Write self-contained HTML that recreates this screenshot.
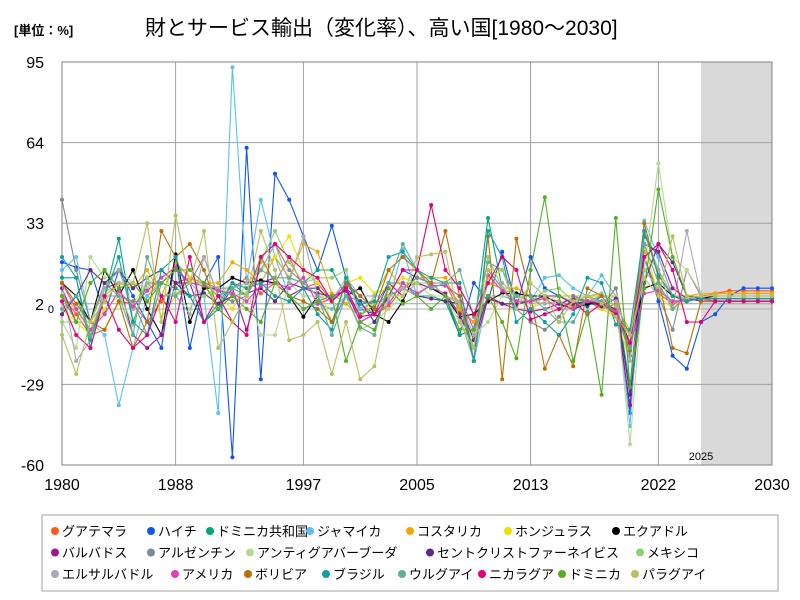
<!DOCTYPE html>
<html><head><meta charset="utf-8">
<style>
body{margin:0;background:#fff;font-family:"Liberation Sans","Noto Sans CJK JP",sans-serif;}
#wrap{position:relative;width:800px;height:600px;overflow:hidden;}
.t{position:absolute;white-space:nowrap;}
</style></head>
<body>
<div id="wrap">
<div class="t" style="left:14px;top:20px;font-size:13px;font-weight:bold;">[単位：%]</div>
<div class="t" style="left:145px;top:12px;font-size:21px;">財とサービス輸出（変化率）、高い国[1980～2030]</div>
<svg id="svg" width="800" height="600" style="position:absolute;left:0;top:0"></svg>
</div>
<script>
const years=[];for(let y=1980;y<=2030;y++)years.push(y);
const xTicks=[1980,1988,1997,2005,2013,2022,2030];
const yTicks=[95,64,33,2,-29,-60];
const names=["グアテマラ","ハイチ","ドミニカ共和国","ジャマイカ","コスタリカ","ホンジュラス","エクアドル","バルバドス","アルゼンチン","アンティグアバーブーダ","セントクリストファーネイビス","メキシコ","エルサルバドル","アメリカ","ボリビア","ブラジル","ウルグアイ","ニカラグア","ドミニカ","パラグアイ"];
const colors=["#ff5a1a","#1155ee","#00a77a","#5cc0f0","#f5a700","#f0e000","#000000","#a0149a","#808890","#b8d890","#5a2a8a","#90d070","#a8a8b8","#e040c0","#b87000","#10a0a0","#60b090","#e0007a","#50b020","#b8c060"];
const sGuatemala=[5,-2,-10,-8,3,2,-5,3,10,12,10,8,8,12,6,10,20,8,10,3,10,2,-2,1,8,10,8,10,-1,-5,10,8,2,3,4,3,1,3,0,2,-10,20,6,2,4,5,6,7,7,7,7];
const sHaiti=[18,16,15,-2,15,5,-5,-15,20,-15,10,20,-57,62,-27,52,42,28,15,32,12,0,-2,5,15,12,10,5,-10,10,3,22,1,20,8,5,3,1,5,5,-40,20,3,-18,-23,-5,-2,5,8,8,8];
const sDomRep=[12,12,-15,5,27,-5,10,10,8,5,-5,2,10,5,15,20,12,10,15,15,5,-2,1,10,10,5,5,3,-10,-8,35,8,5,5,5,5,5,3,5,5,-30,28,20,5,5,5,5,5,5,5,5];
const sJamaica=[15,20,-5,-10,-37,-15,5,10,15,10,5,-40,93,10,42,20,5,0,2,0,5,0,3,3,23,5,10,5,-3,-20,5,5,3,3,12,13,8,5,13,5,-45,34,20,5,4,4,4,4,4,4,4];
const sCostaRica=[5,0,-8,5,10,8,15,5,18,12,10,10,18,15,10,20,12,25,22,6,2,-3,5,15,8,12,12,12,0,-5,10,8,8,5,5,5,5,5,5,5,-15,22,15,5,5,6,6,6,6,6,6];
const sHonduras=[0,-5,-10,0,5,2,10,-3,5,12,8,5,0,10,15,20,28,15,10,-5,10,12,6,8,12,10,8,5,3,-15,12,15,5,0,5,5,2,5,0,-3,-20,25,5,0,3,4,4,4,4,4,4];
const sEcuador=[10,5,-5,15,5,15,0,-10,21,-5,8,8,12,10,11,10,5,-3,5,-5,5,8,-2,-5,3,15,8,5,-3,-2,3,6,6,5,5,2,0,2,2,0,-13,8,10,5,3,4,5,5,5,5,5];
const sBarbados=[8,-5,-5,8,10,-10,-15,-10,10,10,-5,0,8,-8,10,12,5,8,6,5,7,-5,-2,10,5,10,8,6,-2,-15,4,2,0,-1,0,2,4,3,2,0,-37,25,22,8,4,3,3,3,3,3,3];
const sArgentina=[42,15,-5,10,5,3,-10,10,15,10,20,5,3,5,15,25,15,10,5,-5,5,3,2,5,8,12,10,10,2,-20,15,8,0,-5,-8,-3,5,3,1,8,-18,20,5,-8,15,5,5,5,5,5,5];
const sAntigua=[-5,-15,20,12,15,10,8,15,5,0,10,5,10,8,-10,-10,10,5,5,5,5,-8,-5,0,5,10,5,5,-5,-10,-5,5,5,0,3,5,3,3,3,5,-52,15,56,20,15,6,5,5,5,5,5];
const sStKitts=[-2,5,15,10,15,8,12,15,10,5,6,2,5,6,8,3,10,8,8,3,8,3,-5,5,8,5,4,3,2,-12,5,2,2,3,5,5,2,3,1,4,-33,10,25,18,5,4,4,4,4,4,4];
const sMexico=[-5,-5,-5,8,6,-6,12,5,6,5,5,8,5,6,18,30,18,10,12,12,15,-3,2,2,10,10,10,5,2,-15,20,8,5,3,7,8,3,5,6,1,-8,15,8,3,4,5,5,5,5,5,5];
const sElSalvador=[10,-20,-12,8,15,0,10,5,5,-2,20,5,8,10,15,25,10,28,5,3,12,5,5,5,8,5,10,5,3,-10,10,10,5,3,2,3,0,3,5,3,-20,30,15,0,30,5,5,5,5,5,5];
const sUSA=[10,0,-8,-2,7,1,7,12,16,10,9,7,6,3,9,10,8,12,2,4,9,-5,-2,2,10,6,9,9,5,-8,13,7,3,3,4,0,0,3,3,-1,-14,6,7,3,3,4,3,3,3,3,3];
const sBolivia=[10,2,-5,-8,3,-15,-5,30,20,25,15,0,-5,5,20,10,5,3,0,-5,10,5,0,15,20,15,10,30,5,-20,28,-27,27,5,-23,-10,-22,8,5,-2,-16,33,12,-15,-17,3,3,3,3,3,3];
const sBrazil=[20,12,-12,5,20,-5,-10,15,20,5,-5,0,10,8,10,5,3,8,-2,-8,12,2,3,20,22,15,12,10,10,-20,30,20,-5,0,-5,-10,-2,12,10,-6,-8,30,13,5,3,4,4,4,4,4,4];
const sUruguay=[0,5,-10,5,5,-10,20,5,5,10,10,5,8,5,15,12,12,10,5,-10,5,-7,-10,10,25,15,8,10,15,-3,18,15,5,5,0,-5,-5,5,3,-2,-15,25,10,0,5,5,5,5,5,5,5];
const sNicaragua=[3,-10,-15,5,-8,-15,-10,5,-5,20,-5,5,-5,-10,20,25,20,15,12,3,8,-3,-2,5,15,15,40,15,8,-2,10,20,15,-4,-2,0,3,-2,2,-2,-13,20,25,15,-5,-5,3,3,3,3,3];
const sDominica=[5,-5,10,15,8,10,3,10,15,15,10,0,5,0,-5,10,5,0,3,5,-20,-5,-8,8,2,5,0,5,-8,-8,5,-5,-19,15,43,5,-20,-1,-33,35,-30,8,46,20,5,5,5,5,5,5,5];
const sParaguay=[-10,-25,-5,3,10,10,33,-5,36,10,30,-15,-5,5,30,15,-12,-10,-5,-25,-5,-27,-22,5,5,20,21,22,-5,-15,15,15,0,10,5,-5,3,5,2,-3,-10,12,5,28,5,5,5,5,5,5,5];
const series=[sGuatemala,sHaiti,sDomRep,sJamaica,sCostaRica,sHonduras,sEcuador,sBarbados,sArgentina,sAntigua,sStKitts,sMexico,sElSalvador,sUSA,sBolivia,sBrazil,sUruguay,sNicaragua,sDominica,sParaguay];

const L=62,R=772,T=62,B=465;
const x=y=>L+(y-1980)/(2030-1980)*(R-L);
const yS=v=>T+(95-v)/(95-(-60))*(B-T);
const svg=document.getElementById('svg');
const NS='http://www.w3.org/2000/svg';
function mk(tag,attrs,parent){const e=document.createElementNS(NS,tag);for(const k in attrs)e.setAttribute(k,attrs[k]);(parent||svg).appendChild(e);return e;}

let e=mk('rect',{x:x(2025),y:T,width:R-x(2025),height:B-T,fill:'#d9d9d9'});


xTicks.forEach(t=>{
  const g=mk('line',{x1:x(t),x2:x(t),y1:T,y2:B,stroke:'#a0a0a0','stroke-width':1});
  
  
  const tx=mk('text',{x:x(t),y:490,'text-anchor':'middle','font-size':16,fill:'#000'});
  tx.textContent=t;
  
  
});
yTicks.forEach(t=>{
  const g=mk('line',{x1:L,x2:R,y1:yS(t),y2:yS(t),stroke:'#a0a0a0','stroke-width':1});
  
  
  const tx=mk('text',{x:44,y:yS(t)+6,'text-anchor':'end','font-size':16,fill:'#000'});
  tx.textContent=t;
  
  
});
e=mk('line',{x1:L,x2:R,y1:yS(0),y2:yS(0),stroke:'#b0b0b0','stroke-width':1});


e=mk('text',{x:54,y:yS(0)+4,'text-anchor':'end','font-size':11});e.textContent='0';


e=mk('text',{x:x(2025),y:B-5,'text-anchor':'middle','font-size':11});e.textContent='2025';


e=mk('rect',{x:L,y:T,width:R-L,height:B-T,fill:'none',stroke:'#808080'});



series.forEach((s,i)=>{
  const g=mk('g',{});
  
  
  const pts=s.map((v,j)=>x(years[j]).toFixed(1)+','+yS(v).toFixed(1)).join(' ');
  const p=mk('polyline',{points:pts,fill:'none',stroke:colors[i],'stroke-width':1.1},g);
  
  
  s.forEach((v,j)=>{
    const c=mk('circle',{cx:x(years[j]),cy:yS(v),r:2,fill:colors[i]},g);
    
    
  });
});

e=mk('rect',{x:42,y:515,width:736,height:76,fill:'#fff',stroke:'#a0a0a0'});


const legX=[55,151,210,310,410,508,616, 55,151,250,430,640, 55,175,248,326,402,482,562,635];
const legRow=[0,0,0,0,0,0,0,1,1,1,1,1,2,2,2,2,2,2,2,2];
names.forEach((n,i)=>{
  const cy=531+legRow[i]*21.5;
  const g=mk('g',{});
  
  
  mk('circle',{cx:legX[i],cy:cy,r:4,fill:colors[i]},g);
  const t=mk('text',{x:legX[i]+7,y:cy+5,'font-size':13,fill:'#000'},g);
  t.textContent=n;
});
</script>
</body></html>
